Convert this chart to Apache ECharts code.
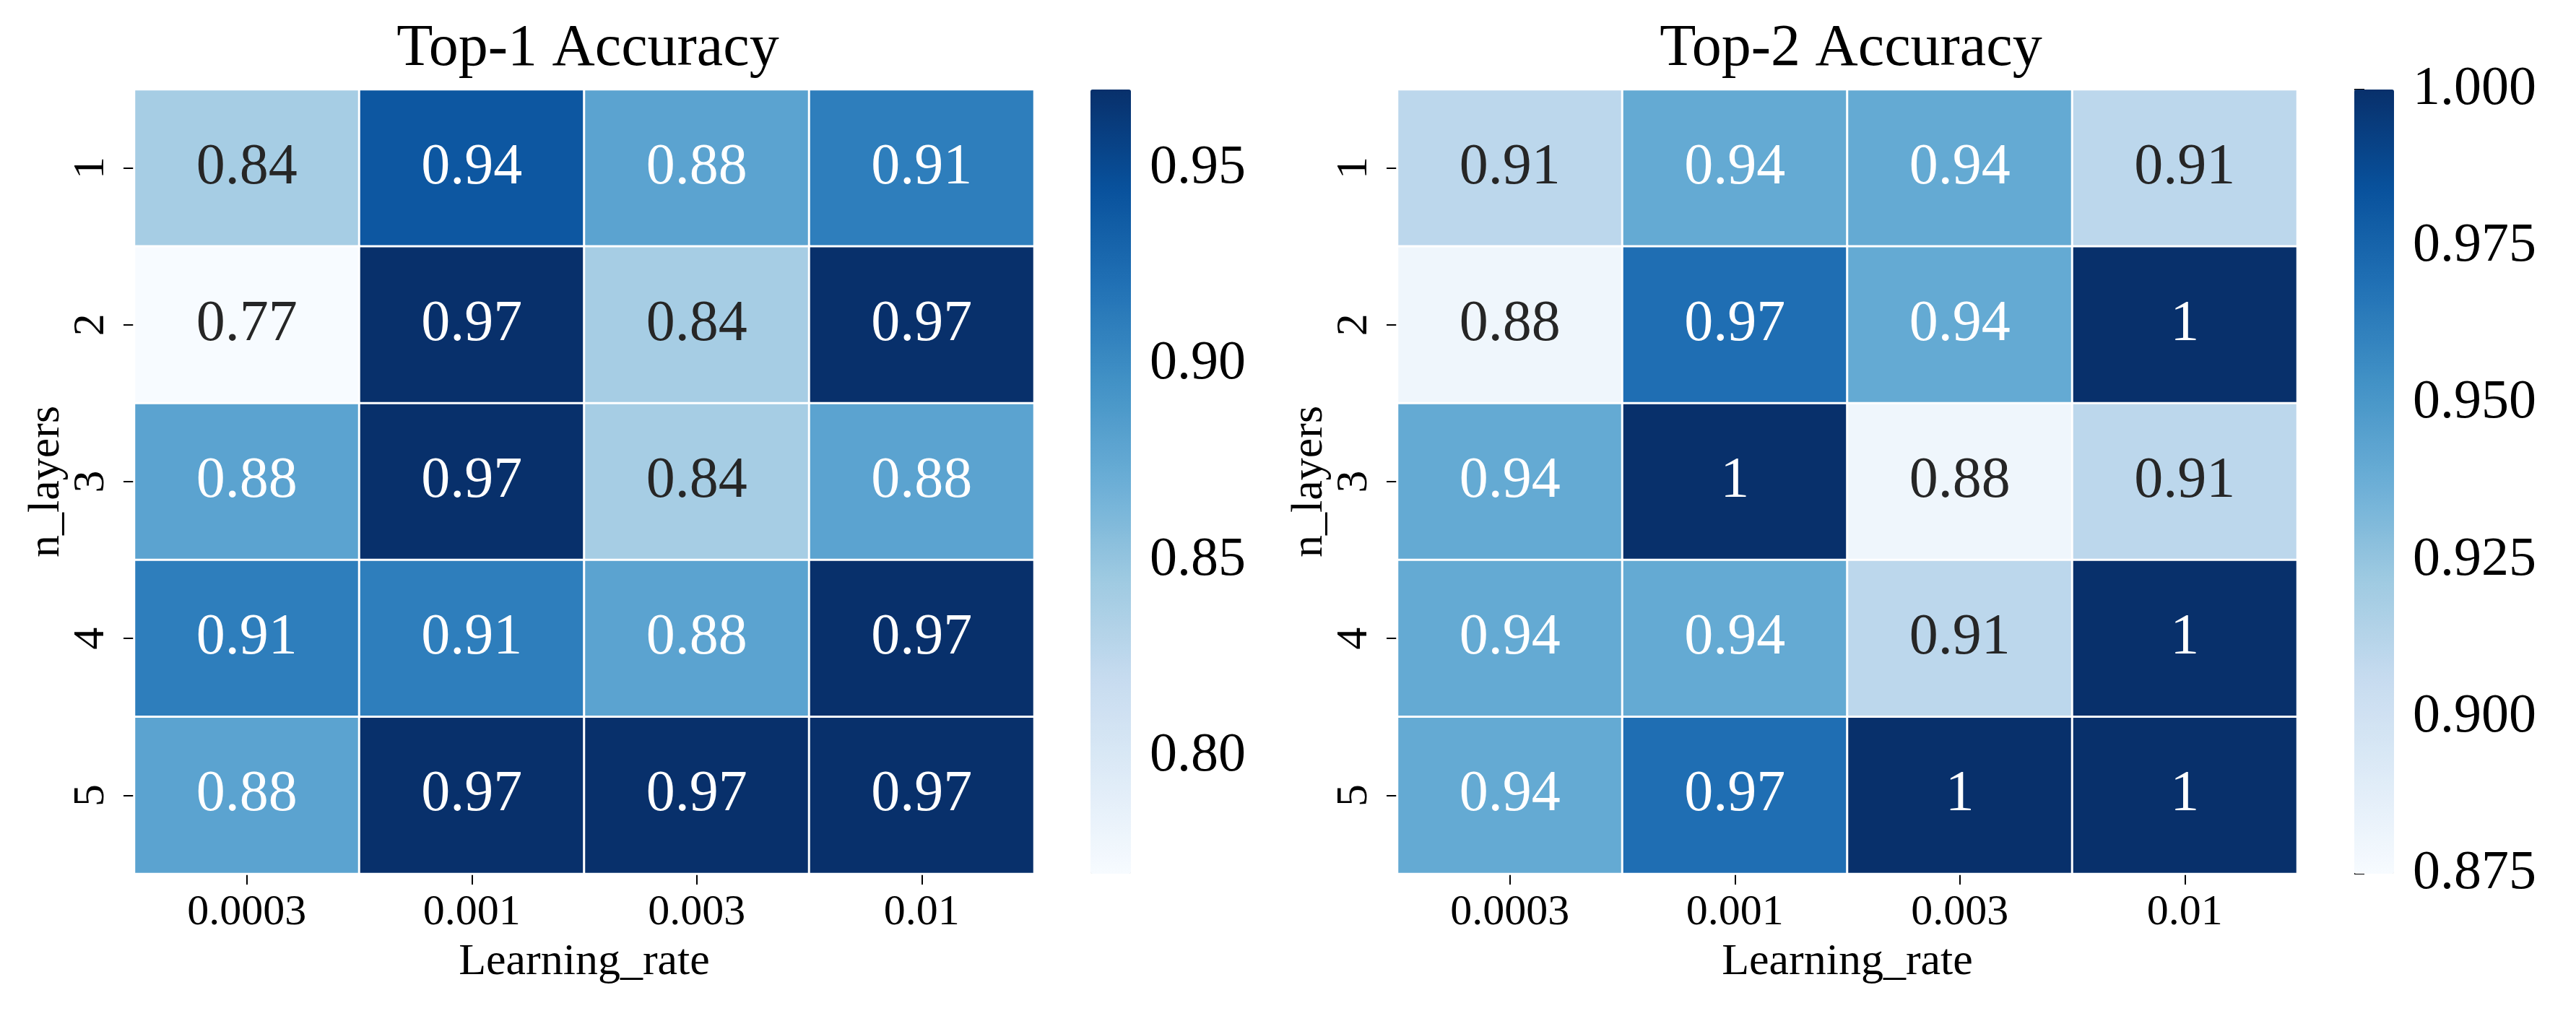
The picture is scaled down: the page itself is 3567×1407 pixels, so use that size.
<!DOCTYPE html>
<html><head><meta charset="utf-8">
<script src="https://cdn.jsdelivr.net/npm/echarts@6/dist/echarts.min.js"></script>
<style>html,body{margin:0;padding:0;background:#fff}#c{width:3567px;height:1407px}</style>
</head><body><div id="c"></div>
<script>
const learningRates = ['0.0003', '0.001', '0.003', '0.01'];
const nLayers = ['1', '2', '3', '4', '5'];
const top1 = [
  [0.84, 0.94, 0.88, 0.91],
  [0.77, 0.97, 0.84, 0.97],
  [0.88, 0.97, 0.84, 0.88],
  [0.91, 0.91, 0.88, 0.97],
  [0.88, 0.97, 0.97, 0.97]
];
const top2 = [
  [0.91, 0.94, 0.94, 0.91],
  [0.88, 0.97, 0.94, 1],
  [0.94, 1, 0.88, 0.91],
  [0.94, 0.94, 0.91, 1],
  [0.94, 0.97, 1, 1]
];
const top1Range = [0.77, 0.97];
const top2Range = [0.875, 1.0];
const top1Ticks = [0.80, 0.85, 0.90, 0.95];
const top2Ticks = [0.875, 0.900, 0.925, 0.950, 0.975, 1.000];
const titles = ['Top-1 Accuracy', 'Top-2 Accuracy'];

const blues = ['#f7fbff','#deebf7','#c6dbef','#9ecae1','#6baed6','#4292c6','#2171b5','#08519c','#08306b'];
const FONT = "'Liberation Serif', 'Times New Roman', serif";

function buildData(mat, range) {
  const out = [];
  mat.forEach((row, r) => row.forEach((v, c) => {
    const frac = (v - range[0]) / (range[1] - range[0]);
    out.push({ value: [c, r, v], label: { color: frac > 0.45 ? '#ffffff' : '#262626' } });
  }));
  return out;
}

const HM = [{ left: 186, top: 124, width: 1246, height: 1086 }, { left: 1935, top: 124, width: 1246, height: 1086 }];
const CB = [{ left: 1510, top: 124, width: 56, height: 1086 }, { left: 3260, top: 124, width: 55, height: 1086 }];
const mats = [top1, top2];
const ranges = [top1Range, top2Range];
const ticks = [top1Ticks, top2Ticks];
const decs = [2, 3];

const grid = [], xAxis = [], yAxis = [], series = [], visualMap = [], title = [];
for (let i = 0; i < 2; i++) {
  grid.push(Object.assign({ outerBoundsMode: 'none', containLabel: false }, HM[i]));
  title.push({ text: titles[i], left: HM[i].left + HM[i].width / 2, top: 22, textAlign: 'center',
    textStyle: { fontFamily: FONT, fontSize: 82, fontWeight: 'normal', color: '#000' } });
  xAxis.push({ gridIndex: i, type: 'category', data: learningRates, position: 'bottom',
    axisLine: { show: false }, splitLine: { show: false }, splitArea: { show: false },
    axisTick: { show: true, alignWithLabel: true, length: 15, lineStyle: { color: '#000', width: 2 } },
    axisLabel: { fontFamily: FONT, fontSize: 60, color: '#000', margin: 24 },
    name: 'Learning_rate', nameLocation: 'middle', nameGap: 92, nameMoveOverlap: false,
    nameTextStyle: { fontFamily: FONT, fontSize: 62, color: '#000' } });
  yAxis.push({ gridIndex: i, type: 'category', data: nLayers, inverse: true,
    axisLine: { show: false }, splitLine: { show: false }, splitArea: { show: false },
    axisTick: { show: true, alignWithLabel: true, length: 15, lineStyle: { color: '#000', width: 2 } },
    axisLabel: { fontFamily: FONT, fontSize: 62, color: '#000', rotate: 90, margin: 28 },
    name: 'n_layers', nameLocation: 'middle', nameRotate: 90, nameGap: 90, nameMoveOverlap: false,
    nameTextStyle: { fontFamily: FONT, fontSize: 62, color: '#000' } });
  series.push({ type: 'heatmap', xAxisIndex: i, yAxisIndex: i, data: buildData(mats[i], ranges[i]),
    itemStyle: { borderColor: '#ffffff', borderWidth: 3 },
    label: { show: true, fontFamily: FONT, fontSize: 80, formatter: p => String(p.value[2]) },
    emphasis: { disabled: true } });
  visualMap.push({ type: 'continuous', seriesIndex: i, dimension: 2, min: ranges[i][0], max: ranges[i][1],
    calculable: false, orient: 'vertical', left: CB[i].left, top: CB[i].top,
    itemWidth: CB[i].width, itemHeight: CB[i].height, padding: 0, showLabel: false,
    inRange: { color: blues }, text: null });
}
// colorbar axes
for (let i = 0; i < 2; i++) {
  const gi = 2 + i;
  grid.push(Object.assign({ outerBoundsMode: 'none', containLabel: false }, CB[i]));
  xAxis.push({ gridIndex: gi, type: 'value', show: false, min: 0, max: 1 });
  const d = decs[i];
  yAxis.push({ gridIndex: gi, type: 'value', position: 'right', min: ranges[i][0], max: ranges[i][1],
    axisLine: { show: false }, splitLine: { show: false },
    axisTick: { show: true, length: 14, lineStyle: { color: '#000', width: 2 }, customValues: ticks[i] },
    axisLabel: { fontFamily: FONT, fontSize: 76, color: '#000', margin: 26, customValues: ticks[i],
      formatter: v => Number(v).toFixed(d) } });
}

const chart = echarts.init(document.getElementById('c'), null, { renderer: 'canvas' });
chart.setOption({ backgroundColor: '#ffffff', animation: false, title, grid, xAxis, yAxis, visualMap, series });
</script></body></html>
